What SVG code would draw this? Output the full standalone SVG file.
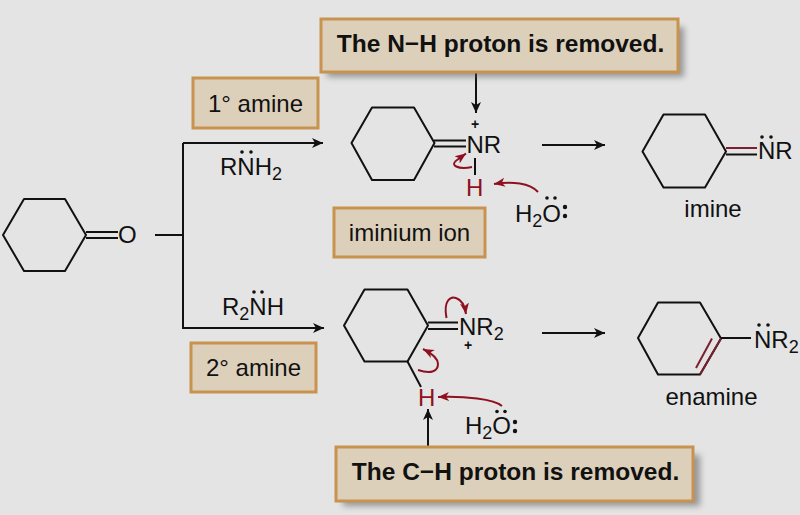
<svg xmlns="http://www.w3.org/2000/svg" width="800" height="515" viewBox="0 0 800 515">
<style>
text{font-family:"Liberation Sans",Arial,sans-serif;fill:#111}
.l{font-size:24px}
.c{font-size:24.500px;font-weight:700}
.s{font-size:24px}
.sub{font-size:18px}
.pl{font-size:14px;font-weight:700}
.box{fill:#ddd0ba;stroke:#c8924f;stroke-width:3}
.b{fill:none;stroke:#111;stroke-width:2;stroke-linejoin:round}
.r{fill:none;stroke:#8f1020;stroke-width:2}
.w{fill:none;stroke:#111;stroke-width:2}
.d{fill:#111}
</style>
<defs>
<marker id="ah" markerUnits="userSpaceOnUse" markerWidth="12" markerHeight="12" refX="11" refY="6" orient="auto"><path d="M0,1 L11,6 L0,11 L3,6Z" fill="#111"/></marker>
<marker id="rh" markerUnits="userSpaceOnUse" markerWidth="12" markerHeight="12" refX="11" refY="6" orient="auto"><path d="M0,1.500 L11,6 L0,10.500 L3,6Z" fill="#8f1020"/></marker>
<filter id="blur" x="-10%" y="-40%" width="120%" height="180%"><feGaussianBlur stdDeviation="3"/></filter>
</defs>
<rect width="800" height="515" fill="#e4e4e4"/>

<g id="connectors">
<path class="w" d="M155,235H183M183,143V328H324" marker-end="url(#ah)"/>
<path class="w" d="M183,143H323" marker-end="url(#ah)"/>
<path class="w" d="M542,145H605" marker-end="url(#ah)"/>
<path class="w" d="M542,333H605" marker-end="url(#ah)"/>
<path class="w" d="M476,73V113" marker-end="url(#ah)"/>
<path class="w" d="M428,446V409" marker-end="url(#ah)"/>
</g>

<g id="ketone">
<polygon class="b" points="3,235 24,199 65,199 86,235 65,271 24,271"/>
<path class="b" d="M86,232H118M86,238H118"/>
<text class="s" x="118" y="243">O</text>
</g>

<g id="callout-nh">
<rect x="327" y="27" width="357" height="50" fill="#555" opacity=".55" filter="url(#blur)"/>
<rect class="box" x="321" y="19" width="357" height="53"/>
<text class="c" x="500.500" y="52" text-anchor="middle">The N−H proton is removed.</text>
</g>

<g id="label-primary">
<rect class="box" x="193" y="78" width="125" height="50"/>
<text class="l" x="255.500" y="112" text-anchor="middle">1° amine</text>
</g>

<g id="rnh2">
<text class="s" x="220" y="175">RNH<tspan class="sub" dy="5">2</tspan></text>
<circle class="d" cx="242" cy="152" r="1.800"/><circle class="d" cx="251" cy="152" r="1.800"/>
</g>

<g id="iminium">
<polygon class="b" points="351.500,143 372,107.500 414,107.500 434.500,143 414,180 372,180"/>
<path class="b" d="M434,140.500H466M434,146.500H466"/>
<text class="s" x="466.500" y="153">NR</text>
<text class="pl" x="475" y="129" text-anchor="middle">+</text>
<path class="b" d="M475,158V175"/>
<text class="s" style="fill:#8f1020" x="466" y="196">H</text>
<path class="r" d="M538,192C530,183 512,181 494,184" marker-end="url(#rh)"/>
<path class="r" d="M472,167C458,170 449,165 457,160L466,153.500" marker-end="url(#rh)"/>
<text class="s" x="515" y="222">H<tspan class="sub" dy="5">2</tspan><tspan dy="-5">O</tspan></text>
<circle class="d" cx="547" cy="198" r="1.800"/><circle class="d" cx="555" cy="198" r="1.800"/>
<circle class="d" cx="565" cy="207" r="2.200"/><circle class="d" cx="565" cy="216" r="2.200"/>
</g>

<g id="label-iminium">
<rect class="box" x="334" y="208" width="151" height="49"/>
<text class="l" x="409.500" y="241" text-anchor="middle">iminium ion</text>
</g>

<g id="imine">
<polygon class="b" points="642.500,151.500 663.500,114.500 705,114.500 726,151.500 705,187.500 663.500,187.500"/>
<path class="b" d="M726,148H757" style="stroke:#7a2030"/><path class="b" d="M726,154.500H757"/>
<text class="s" x="758" y="159">NR</text>
<circle class="d" cx="762" cy="137" r="1.800"/><circle class="d" cx="771" cy="137" r="1.800"/>
<text class="l" x="713" y="217" text-anchor="middle">imine</text>
</g>

<g id="r2nh">
<text class="s" x="222" y="315">R<tspan class="sub" dy="5">2</tspan><tspan dy="-5">NH</tspan></text>
<circle class="d" cx="254" cy="292" r="1.800"/><circle class="d" cx="262" cy="292" r="1.800"/>
</g>

<g id="label-secondary">
<rect class="box" x="191" y="343" width="125" height="49"/>
<text class="l" x="253.500" y="376" text-anchor="middle">2° amine</text>
</g>

<g id="iminium-2">
<polygon class="b" points="344,325.500 364.500,289.500 407.500,289.500 428,325.500 407.500,361.500 364.500,361.500"/>
<path class="b" d="M428,322.500H458M428,329H458"/>
<path class="b" d="M407.500,361.500L421,387"/>
<text class="s" x="459" y="335">NR<tspan class="sub" dy="5">2</tspan></text>
<text class="pl" x="468" y="350" text-anchor="middle">+</text>
<text class="s" style="fill:#8f1020" x="418" y="406">H</text>
<path class="r" d="M446.500,318C443,300 451,296 456,298C462,300 465,307 466,314" marker-end="url(#rh)"/>
<path class="r" d="M418,370C430,374 438,372 438,364C438,358 431,353 423,349" marker-end="url(#rh)"/>
<path class="r" d="M502,406C494,399 465,396 438,397" marker-end="url(#rh)"/>
<text class="s" x="465" y="434">H<tspan class="sub" dy="5">2</tspan><tspan dy="-5">O</tspan></text>
<circle class="d" cx="497" cy="411.500" r="1.800"/><circle class="d" cx="505" cy="411.500" r="1.800"/>
<circle class="d" cx="515" cy="422" r="2.200"/><circle class="d" cx="515" cy="431" r="2.200"/>
</g>

<g id="callout-ch">
<rect x="343" y="455" width="357" height="51" fill="#555" opacity=".55" filter="url(#blur)"/>
<rect class="box" x="336" y="447" width="357" height="54"/>
<text class="c" x="515.500" y="480" text-anchor="middle">The C−H proton is removed.</text>
</g>

<g id="enamine">
<polygon class="b" points="638,338 658,302.500 700,302.500 721,338.500 700,374.500 658,374.500"/>
<path class="b" d="M721,338.500L700,374.500" style="stroke:#7a2030"/>
<path class="b" d="M712,338.500L696,368" style="stroke:#7a2030"/>
<path class="b" d="M721,338H751"/>
<text class="s" x="754" y="348">NR<tspan class="sub" dy="5">2</tspan></text>
<circle class="d" cx="759" cy="325" r="1.800"/><circle class="d" cx="768" cy="325" r="1.800"/>
<text class="l" x="711.500" y="405" text-anchor="middle">enamine</text>
</g>
</svg>
